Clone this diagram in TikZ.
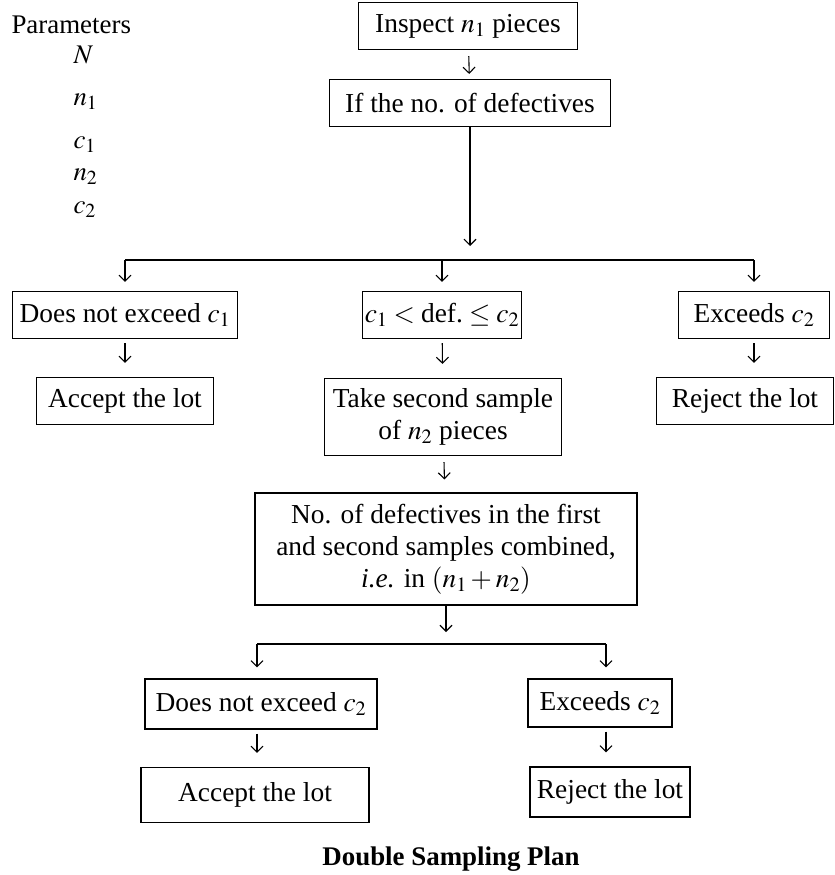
\documentclass[tikz,border=0pt]{standalone}
\usepackage{mathptmx}
\usepackage{fontspec}
\setmainfont{Liberation Serif}
\usetikzlibrary{arrows.meta}

\tikzset{
  box/.style={draw, line width=1.1bp, minimum height=47bp, inner sep=1bp, align=center,
    font=\fontsize{27.5}{32}\selectfont},
  param/.style={anchor=west, font=\fontsize{27}{30}\selectfont},
  flow/.style={-{Straight Barb[length=6bp,width=12bp]}, line width=1.1bp},
  branch/.style={line width=1.1bp},
}

\begin{document}
\begin{tikzpicture}[x=1bp, y=-1bp]

	\useasboundingbox (0,0) rectangle (835,875);

	% parameters of the plan
	\node [param] (param) at (8,25) {Parameters};
	\node [param] (parN) at (70,55) {$N$};
	\node [param] (parn1) at (70,102) {$n_1$};
	\node [param] (parc1) at (70,145) {$c_1$};
	\node [param] (parn2) at (70,177) {$n_2$};
	\node [param] (parc2) at (70,210) {$c_2$};

	% first sample
	\node [box, minimum width=219bp] (inspect) at (468,26) {Inspect $n_1$ pieces};
	\node [box, minimum width=281bp] (count) at (470,103) {If the no. of defectives};
	\coordinate (split1) at (470,260);

	\node [box, minimum width=225bp] (notexcA) at (125,315) {Does not exceed $c_1$};
	\node [box, minimum width=159bp] (between) at (442,315) {$c_1 < \mbox{def.} \leq c_2$};
	\node [box, minimum width=151bp] (excA) at (754,315) {Exceeds $c_2$};

	\node [box, minimum width=177bp] (acceptA) at (125,401) {Accept the lot};
	\node [box, minimum width=237bp, minimum height=77bp] (second) at (443,417) {Take second sample\\of $n_2$ pieces};
	\node [box, minimum width=177bp] (rejectA) at (745,401) {Reject the lot};

	% second sample
	\node [box, minimum width=382bp, minimum height=112bp] (combined) at (446,549)
		{No. of defectives in the first\\and second samples combined,\\\textit{i.e.} in $(n_1+n_2)$};
	\coordinate (split2) at (446,644);

	\node [box, minimum width=232bp, minimum height=50bp] (notexcB) at (261,704) {Does not exceed $c_2$};
	\node [box, minimum width=144bp, minimum height=48bp] (excB) at (600,703) {Exceeds $c_2$};
	\coordinate (dropA) at (257,644);
	\coordinate (dropB) at (606,644);

	\node [box, minimum width=228bp, minimum height=55bp] (acceptB) at (255,795) {Accept the lot};
	\node [box, minimum width=160bp, minimum height=50bp] (rejectB) at (610,792) {Reject the lot};

	\node [font=\bfseries\fontsize{27}{30}\selectfont] (title) at (451,859) {Double Sampling Plan};

	% connectors
	\draw [flow, shorten <=6bp, shorten >=5bp] (inspect) -- (count);
	\draw [flow, shorten >=14bp] (count) -- (split1);
	\draw [branch] (notexcA |- split1) -- (excA |- split1);
	\draw [flow, shorten >=9bp] (notexcA |- split1) -- (notexcA);
	\draw [flow, shorten >=9bp] (between |- split1) -- (between);
	\draw [flow, shorten >=9bp] (excA |- split1) -- (excA);
	\draw [flow, shorten <=4bp, shorten >=14bp] (notexcA) -- (acceptA);
	\draw [flow, shorten <=4bp, shorten >=14bp] (between) -- (second);
	\draw [flow, shorten <=4bp, shorten >=14bp] (excA.south) -- (excA.south |- rejectA.north);
	\draw [flow, shorten <=6bp, shorten >=13bp] (second) -- (combined);
	\draw [flow, shorten >=12bp] (combined) -- (split2);
	\draw [branch] (dropA) -- (dropB);
	\draw [flow, shorten >=11bp] (dropA) -- (dropA |- notexcB.north);
	\draw [flow, shorten >=11bp] (dropB) -- (dropB |- excB.north);
	\draw [flow, shorten <=4bp, shorten >=14bp] (dropA |- notexcB.south) -- (dropA |- acceptB.north);
	\draw [flow, shorten <=4bp, shorten >=14bp] (dropB |- excB.south) -- (dropB |- rejectB.north);

\end{tikzpicture}
\end{document}
